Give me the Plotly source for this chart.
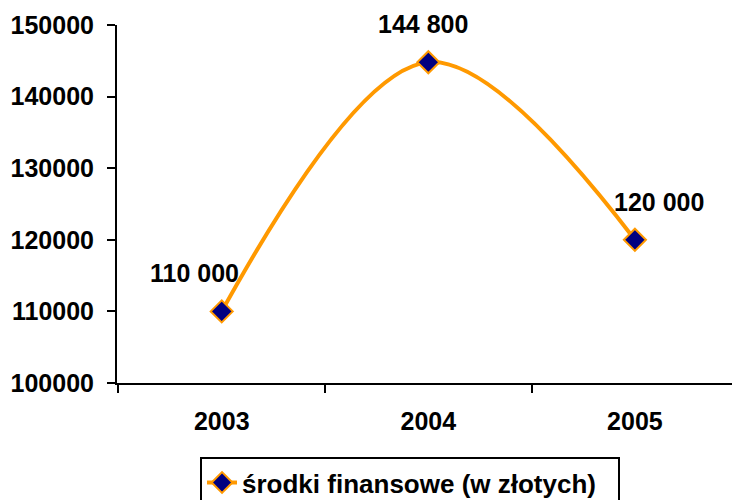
import plotly.graph_objects as go

years = ["2003", "2004", "2005"]
values = [110000, 144800, 120000]
labels = ["110 000", "144 800", "120 000"]
label_shift = [-27, -5, 24]
series_name = "środki finansowe (w złotych)"

FONT = "Liberation Sans, Arial"

fig = go.Figure()
fig.add_trace(go.Scatter(
    x=years, y=values, mode="lines+markers", name=series_name,
    line=dict(color="#FF9900", width=4, shape="spline", smoothing=1.0),
    marker=dict(symbol="diamond", size=17, color="#000080",
                line=dict(color="#FF9900", width=2)),
))
annotations = []
for i, (yv, t, s) in enumerate(zip(values, labels, label_shift)):
    annotations.append(dict(x=i, y=yv, xref="x", yref="y", text="<b>" + t + "</b>",
                            showarrow=False, xshift=s, yshift=38,
                            font=dict(family=FONT, size=25, color="black")))

fig.update_layout(
    width=732, height=500,
    margin=dict(l=117, r=0, t=25, b=117, autoexpand=False),
    paper_bgcolor="white", plot_bgcolor="white",
    font=dict(family=FONT, size=25, color="black"),
    showlegend=True,
    annotations=annotations,
    legend=dict(orientation="h", x=0.135, xanchor="left", y=-0.207, yanchor="top",
                bordercolor="black", borderwidth=2, entrywidth=371, entrywidthmode="pixels",
                font=dict(size=26, family=FONT, weight="bold")),
)
fig.update_xaxes(type="category", range=[-0.507, 2.47], showline=True, automargin=False,
                 linecolor="black", linewidth=2, ticks="outside", tickson="boundaries",
                 ticklen=8, tickwidth=2, tickcolor="black", showgrid=False,
                 ticklabelstandoff=15,
                 tickfont=dict(size=25, family=FONT, weight="bold"))
fig.update_yaxes(range=[100000, 150000], dtick=10000, tickformat="d", automargin=False,
                 showline=True, linecolor="black", linewidth=2, ticks="outside",
                 ticklen=8, tickwidth=2, tickcolor="black", showgrid=False, zeroline=False,
                 ticklabelstandoff=8,
                 tickfont=dict(size=25, family=FONT, weight="bold"))
fig.write_html("out.html", config={"displayModeBar": False},
               post_script="document.body.style.margin='0';document.body.style.overflow='hidden';")
